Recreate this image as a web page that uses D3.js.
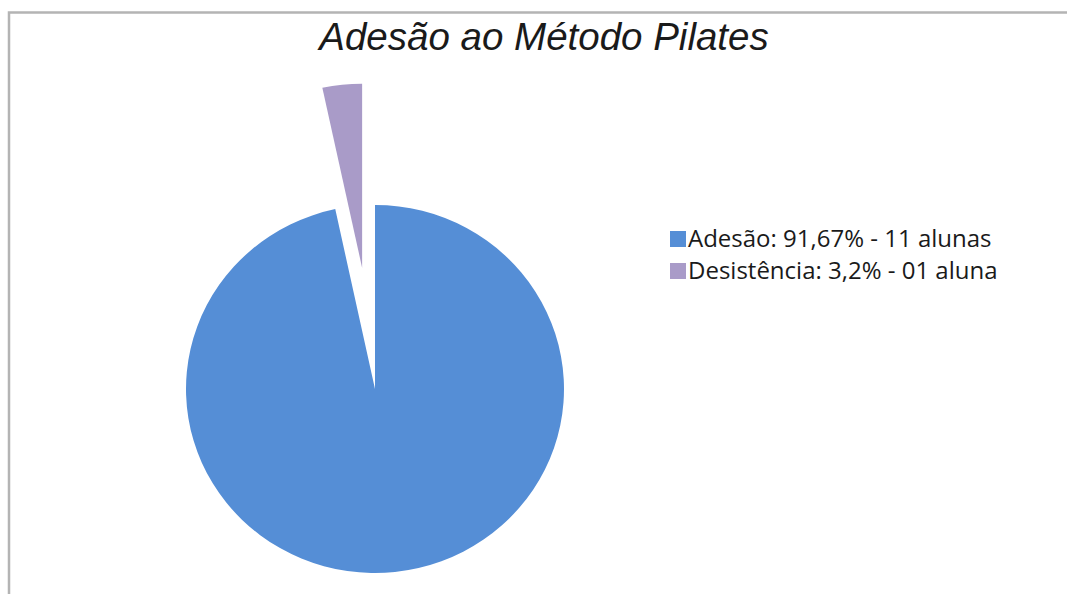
<!DOCTYPE html>
<html>
<head>
<meta charset="utf-8">
<script src="https://cdn.jsdelivr.net/npm/d3@7"></script>
<style>
  html, body { margin: 0; padding: 0; background: #fff; }
  svg { display: block; }
</style>
</head>
<body>
<svg id="chart" width="1067" height="594"></svg>
<script>
// Pie data: share of students who kept up with the method vs. dropped out
const categories = ["Adesão", "Desistência"];
const values = [91.67, 3.2];
const legendLabels = ["Adesão: 91,67% - 11 alunas", "Desistência: 3,2% - 01 aluna"];
const colors = ["#558ed6", "#a99bc8"];
const explode = [0, 122];

const svg = d3.select("#chart");

// Chart frame (top and left edges)
svg.append("path")
  .attr("d", "M9,594 V12.5 H1067")
  .attr("fill", "none")
  .attr("stroke", "#b4b4b4")
  .attr("stroke-width", 2.5);

// Title
svg.append("text")
  .attr("x", 544)
  .attr("y", 50)
  .attr("text-anchor", "middle")
  .attr("font-family", "Liberation Sans, Arial, sans-serif")
  .attr("font-style", "italic")
  .attr("font-size", 38.5)
  .attr("fill", "#1a1a1a")
  .text("Adesão ao Método Pilates");

// Pie
const rx = 189, ry = 184;
const pie = d3.pie().sort(null).value(d => d.value);
const arcs = pie(categories.map((c, i) => ({ name: c, value: values[i], i })));
const arc = d3.arc().innerRadius(0).outerRadius(rx);

const g = svg.append("g")
  .attr("transform", `translate(375,389) scale(1,${ry / rx})`);

g.selectAll("path.slice")
  .data(arcs)
  .join("path")
  .attr("class", "slice")
  .attr("d", arc)
  .attr("fill", d => colors[d.data.i])
  .attr("transform", d => {
    const mid = (d.startAngle + d.endAngle) / 2;
    const off = explode[d.data.i];
    return `translate(${Math.sin(mid) * off},${-Math.cos(mid) * off * rx / ry})`;
  });

// Legend
const legend = svg.append("g").attr("transform", "translate(670,231)");
const rows = legend.selectAll("g")
  .data(legendLabels)
  .join("g")
  .attr("transform", (d, i) => `translate(0,${i * 32})`);
rows.append("rect")
  .attr("width", 16)
  .attr("height", 16)
  .attr("fill", (d, i) => colors[i]);
rows.append("text")
  .attr("x", 18)
  .attr("y", 16)
  .attr("font-family", "Open Sans, Noto Sans, sans-serif")
  .attr("font-size", 24)
  .attr("fill", "#1a1a1a")
  .text(d => d);
</script>
</body>
</html>
